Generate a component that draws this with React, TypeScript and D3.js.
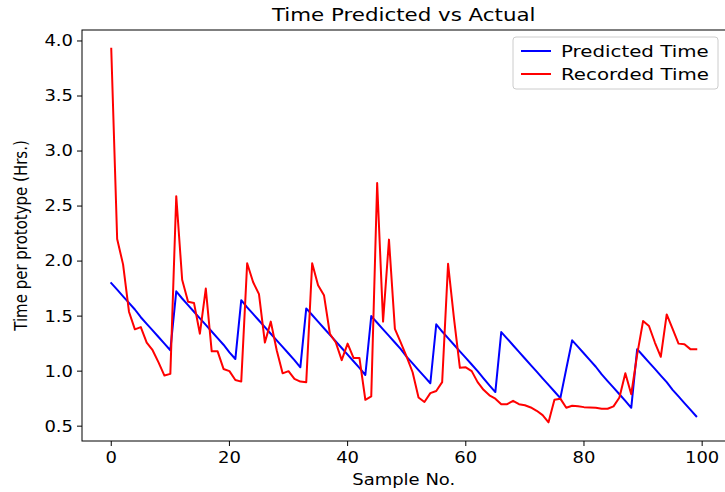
import React from "react";
import * as d3 from "d3";

// Per-sample values (hours per prototype)
const sampleIndex: number[] = Array.from({ length: 100 }, (_, i) => i);

const predictedTime: number[] = [
  1.80, 1.74, 1.68, 1.62, 1.56, 1.49, 1.43, 1.37, 1.31, 1.25, 1.19,
  1.725, 1.66, 1.60, 1.54, 1.48, 1.42, 1.36, 1.30, 1.24, 1.17, 1.11,
  1.645, 1.58, 1.52, 1.46, 1.40, 1.34, 1.28, 1.22, 1.16, 1.10, 1.035,
  1.57, 1.51, 1.45, 1.39, 1.33, 1.27, 1.21, 1.15, 1.09, 1.03, 0.965,
  1.50, 1.44, 1.38, 1.32, 1.26, 1.20, 1.13, 1.07, 1.01, 0.95, 0.89,
  1.425, 1.36, 1.30, 1.24, 1.18, 1.12, 1.06, 1.00, 0.935, 0.87, 0.81,
  1.355, 1.295, 1.235, 1.175, 1.115, 1.055, 0.995, 0.935, 0.875, 0.815, 0.755,
  1.02,
  1.28, 1.22, 1.16, 1.10, 1.04, 0.97, 0.91, 0.85, 0.79, 0.73, 0.667,
  1.20, 1.14, 1.08, 1.02, 0.96, 0.90, 0.83, 0.77, 0.71, 0.65, 0.59,
];

const recordedTime: number[] = [
  3.93, 2.20, 1.97, 1.54, 1.38, 1.40, 1.26, 1.19, 1.08, 0.96,
  0.975, 2.59, 1.83, 1.63, 1.62, 1.34, 1.75, 1.18, 1.18, 1.02,
  1.00, 0.92, 0.905, 1.98, 1.81, 1.70, 1.26, 1.45, 1.19, 0.98,
  1.00, 0.93, 0.905, 0.90, 1.98, 1.78, 1.69, 1.34, 1.26, 1.10,
  1.25, 1.12, 1.12, 0.74, 0.77, 2.71, 1.45, 2.195, 1.385, 1.26,
  1.13, 0.99, 0.76, 0.72, 0.80, 0.82, 0.90, 1.975, 1.48, 1.03,
  1.035, 1.00, 0.90, 0.83, 0.78, 0.75, 0.70, 0.70, 0.73, 0.70,
  0.69, 0.67, 0.64, 0.60, 0.535, 0.74, 0.75, 0.667, 0.685, 0.68,
  0.673, 0.67, 0.667, 0.658, 0.658, 0.68, 0.76, 0.98, 0.79, 1.15,
  1.455, 1.41, 1.26, 1.13, 1.515, 1.385, 1.25, 1.245, 1.20, 1.20,
];

const xTicks: number[] = [0, 20, 40, 60, 80, 100];
const yTicks: number[] = [0.5, 1.0, 1.5, 2.0, 2.5, 3.0, 3.5, 4.0];

const seriesNames: string[] = ["Predicted Time", "Recorded Time"];
const seriesColors: string[] = ["#0000ff", "#ff0000"];

const W = 725;
const H = 492;
const left = 82;
const right = 725.5;
const top = 30;
const bottom = 441;
const FONT = "'DejaVu Sans', sans-serif";
// the whole figure is widened relative to its height
const SX = 1.2;

type LabelProps = {
  x: number;
  y: number;
  size: number;
  anchor?: "start" | "middle" | "end";
  rotate?: number;
  dy?: string;
  children: React.ReactNode;
};

function Label({ x, y, size, anchor = "start", rotate = 0, dy, children }: LabelProps) {
  return (
    <g transform={`translate(${x},${y}) scale(${SX},1) rotate(${rotate})`}>
      <text textAnchor={anchor} dy={dy} fontFamily={FONT} fontSize={size} fill="#000">
        {children}
      </text>
    </g>
  );
}

export default function App() {
  const xMin = d3.min(sampleIndex)!;
  const xMax = d3.max(sampleIndex)!;
  const xPad = (xMax - xMin) * 0.05;
  const allY = [...predictedTime, ...recordedTime];
  const yMin = d3.min(allY)!;
  const yMax = d3.max(allY)!;
  const yPad = (yMax - yMin) * 0.05;

  const x = d3.scaleLinear().domain([xMin - xPad, xMax + xPad]).range([left, right]);
  const y = d3.scaleLinear().domain([yMin - yPad, yMax + yPad]).range([bottom, top]);

  const line = d3
    .line<number>()
    .x((_, i) => x(sampleIndex[i]))
    .y((d) => y(d));

  const series = [predictedTime, recordedTime];
  const fs = 15;

  return (
    <svg
      width={W}
      height={H}
      style={{ position: "absolute", left: 0, top: 0, background: "#fff" }}
    >
      <rect x={0} y={0} width={W} height={H} fill="#fff" />
      <defs>
        <clipPath id="plot-area">
          <rect x={left} y={top} width={right - left} height={bottom - top} />
        </clipPath>
      </defs>

      <g clipPath="url(#plot-area)">
        {series.map((s, k) => (
          <path
            key={k}
            d={line(s) || ""}
            fill="none"
            stroke={seriesColors[k]}
            strokeWidth={2}
            strokeLinejoin="round"
            strokeLinecap="square"
          />
        ))}
      </g>

      {/* axes frame */}
      <rect
        x={left}
        y={top}
        width={right - left}
        height={bottom - top}
        fill="none"
        stroke="#000"
        strokeWidth={1}
      />

      {/* x ticks */}
      {xTicks.map((t) => (
        <g key={"x" + t}>
          <line x1={x(t)} x2={x(t)} y1={bottom} y2={bottom + 5} stroke="#000" strokeWidth={1} />
          <Label x={x(t)} y={bottom + 22} size={fs} anchor="middle">
            {t}
          </Label>
        </g>
      ))}

      {/* y ticks */}
      {yTicks.map((t) => (
        <g key={"y" + t}>
          <line x1={left} x2={left - 5} y1={y(t)} y2={y(t)} stroke="#000" strokeWidth={1} />
          <Label x={left - 9} y={y(t)} size={fs} anchor="end" dy="0.36em">
            {t.toFixed(1)}
          </Label>
        </g>
      ))}

      {/* title and axis labels */}
      <Label x={(left + right) / 2} y={21} size={17.8} anchor="middle">
        Time Predicted vs Actual
      </Label>
      <Label x={(left + right) / 2} y={485} size={fs} anchor="middle">
        Sample No.
      </Label>
      <Label x={27} y={(top + bottom) / 2} size={fs} anchor="middle" rotate={-90}>
        Time per prototype (Hrs.)
      </Label>

      {/* legend */}
      <g transform="translate(513,37)">
        <rect
          x={0}
          y={0}
          width={205}
          height={52}
          rx={3}
          fill="#fff"
          fillOpacity={0.8}
          stroke="#cccccc"
          strokeWidth={1}
        />
        {seriesNames.map((name, k) => (
          <g key={name}>
            <line
              x1={8}
              x2={38}
              y1={14 + k * 23}
              y2={14 + k * 23}
              stroke={seriesColors[k]}
              strokeWidth={2}
            />
            <Label x={48} y={14 + k * 23} size={16.5} dy="0.36em">
              {name}
            </Label>
          </g>
        ))}
      </g>
    </svg>
  );
}
